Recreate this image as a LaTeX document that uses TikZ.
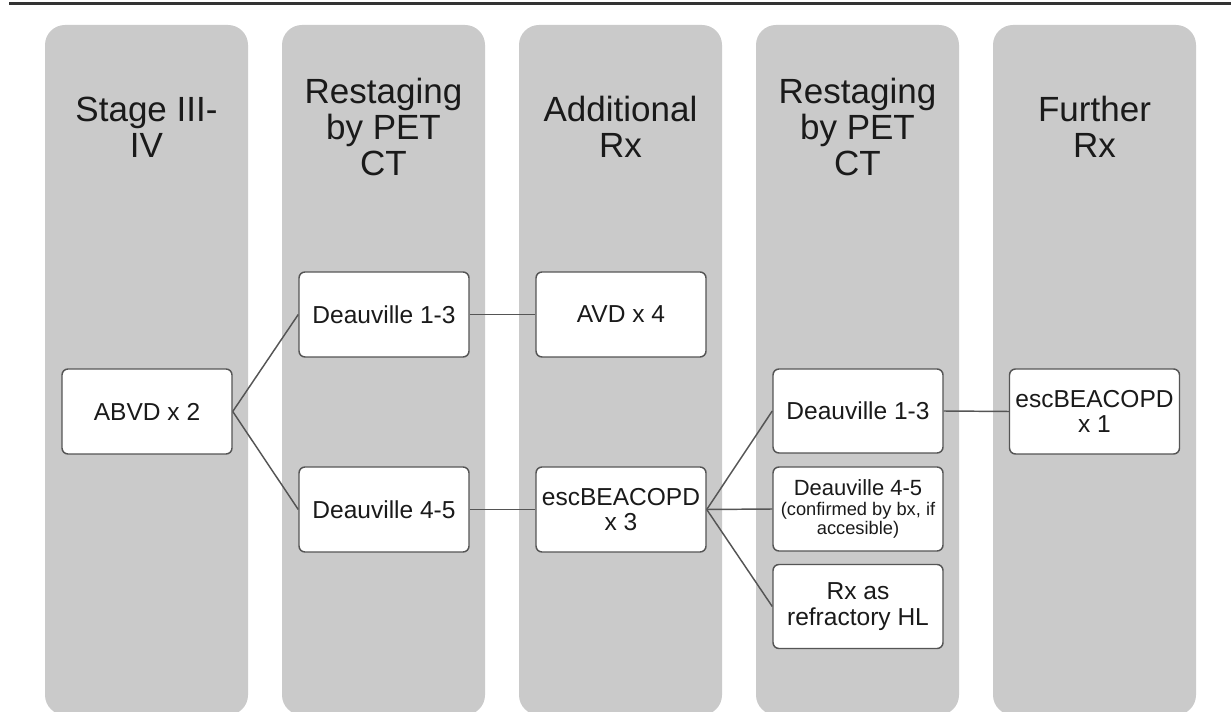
\documentclass[tikz,border=0pt]{standalone}
\usepackage{fontspec}
\setmainfont{Liberation Sans}
\definecolor{colfill}{HTML}{CACACA}
\definecolor{edgecol}{HTML}{555555}
\definecolor{txtcol}{HTML}{1A1A1A}
\definecolor{rulecol}{HTML}{333333}
\begin{document}
\begin{tikzpicture}[x=0.75pt,y=-0.75pt,
  column/.style={fill=colfill, draw=none, rounded corners=15pt, inner sep=0pt,
    minimum width=152.25pt, minimum height=517.5pt},
  head/.style={align=center, text=txtcol, inner sep=0pt,
    font=\fontsize{26.25}{27}\selectfont},
  box/.style={draw=edgecol, line width=1.1pt, fill=white, rounded corners=4.5pt,
    minimum width=127.5pt, minimum height=63.75pt, inner sep=1.5pt, align=center,
    text=txtcol, font=\fontsize{18.4}{19}\selectfont},
  sbox/.style={box, minimum height=63pt},
  conn/.style={draw=edgecol, line width=1.1pt},
  toprule/.style={draw=rulecol, line width=2.6pt}]
\useasboundingbox (0,0) rectangle (1231,712);
% top rule
\coordinate (rl) at (9,3.5);
\coordinate (rr) at (1231,3.5);
\draw[toprule] (rl) -- (rr);
% columns
\node[column] (col1) at (146.5,370) {};
\node[column] (col2) at (383.5,370) {};
\node[column] (col3) at (620.5,370) {};
\node[column] (col4) at (857.5,370) {};
\node[column] (col5) at (1094.5,370) {};
% headers
\node[head] (h1) at (146.5,127) {Stage III-\\IV};
\node[head] (h2) at (383.5,127) {Restaging\\by PET\\CT};
\node[head] (h3) at (620.5,127) {Additional\\Rx};
\node[head] (h4) at (857.5,127) {Restaging\\by PET\\CT};
\node[head] (h5) at (1094.5,127) {Further\\Rx};
% boxes
\node[box] (abvd) at (147,411.5) {ABVD x 2};
\node[box] (d13a) at (384,314.5) {Deauville 1-3};
\node[box] (d45a) at (384,509.5) {Deauville 4-5};
\node[box] (avd) at (621,314.5) {AVD x 4};
\node[box] (esc3) at (621,509.5) {escBEACOPD\\x 3};
\node[sbox] (d13b) at (858,411) {Deauville 1-3};
\node[sbox, font=\fontsize{13.7}{14.4}\selectfont] (d45b) at (858,509)
  {{\fontsize{16.5}{14.4}\selectfont Deauville 4-5}\\[0.8pt](confirmed by bx, if\\accesible)};
\node[sbox] (rx) at (858,606.5) {Rx as\\refractory HL};
\node[box] (esc1) at (1094.5,411.5) {escBEACOPD\\x 1};
% connectors
\draw[conn] (abvd.east) -- (d13a.west);
\draw[conn] (abvd.east) -- (d45a.west);
\draw[conn] (d13a.east) -- (avd.west);
\draw[conn] (d45a.east) -- (esc3.west);
\draw[conn] (esc3.east) -- (d13b.west);
\draw[conn] (esc3.east) -- (d45b.west);
\draw[conn] (esc3.east) -- (rx.west);
\draw[conn] (d13b.east) -- (esc1.west);
\end{tikzpicture}
\end{document}
